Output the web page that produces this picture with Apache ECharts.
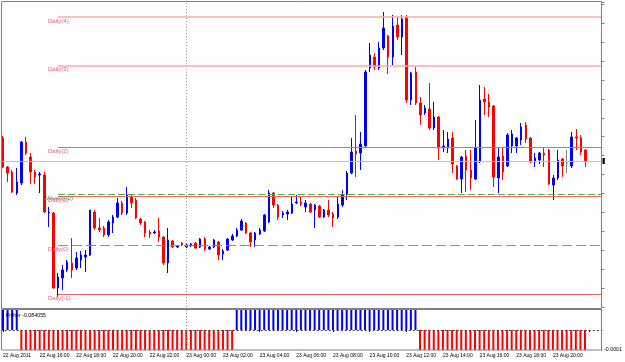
<!DOCTYPE html>
<html><head><meta charset="utf-8">
<script src="https://cdn.jsdelivr.net/npm/echarts@6/dist/echarts.min.js"></script>
<style>html,body{margin:0;padding:0;background:#fff}#c{width:625px;height:362px}</style>
</head><body><div id="c"></div>
<script>
// ---- data (15-minute bars, 22 Aug 2011 14:00 onwards) ----
const openP = [
1.44295,1.44150,1.44125,1.44020,1.44070,1.44275,1.44200,1.44125,1.44110,1.44110,
1.43920,1.43920,1.43545,1.43595,1.43635,1.43670,1.43645,1.43685,1.43700,1.43710,
1.43925,1.43845,1.43845,1.43810,1.43870,1.43900,1.43970,1.43920,1.44000,1.43985,
1.43890,1.43875,1.43825,1.43820,1.43830,1.43800,1.43670,1.43780,1.43750,1.43770,
1.43750,1.43755,1.43770,1.43750,1.43790,1.43740,1.43750,1.43775,1.43715,1.43735,
1.43785,1.43805,1.43835,1.43870,1.43820,1.43785,1.43815,1.43830,1.43875,1.44020,
1.43960,1.43910,1.43915,1.43920,1.43970,1.43975,1.43950,1.43965,1.43935,1.43955,
1.43900,1.43935,1.43915,1.43900,1.43960,1.44015,1.44120,1.44230,1.44220,1.44255,
1.44645,1.44700,1.44645,1.44745,1.44805,1.44700,1.44860,1.44800,1.44895,1.44485,
1.44625,1.44470,1.44420,1.44440,1.44345,1.44400,1.44245,1.44245,1.44295,1.44155,
1.44090,1.44205,1.44135,1.44090,1.44175,1.44490,1.44475,1.44455,1.44095,1.44205,
1.44155,1.44255,1.44255,1.44285,1.44360,1.44295,1.44175,1.44185,1.44220,1.44235,
1.44060,1.44095,1.44190,1.44170,1.44155,1.44300,1.44295,1.44235];
const closeP = [
1.44150,1.44120,1.44025,1.44075,1.44275,1.44220,1.44125,1.44100,1.44115,1.43925,
1.43925,1.43545,1.43600,1.43635,1.43675,1.43635,1.43695,1.43710,1.43710,1.43935,
1.43845,1.43835,1.43810,1.43875,1.43900,1.43970,1.43920,1.44010,1.43970,1.43895,
1.43870,1.43820,1.43815,1.43825,1.43800,1.43670,1.43785,1.43750,1.43755,1.43760,
1.43760,1.43765,1.43745,1.43790,1.43740,1.43750,1.43785,1.43710,1.43730,1.43790,
1.43805,1.43835,1.43880,1.43820,1.43775,1.43820,1.43835,1.43910,1.44020,1.43960,
1.43900,1.43920,1.43925,1.43965,1.43975,1.43965,1.43970,1.43925,1.43960,1.43900,
1.43935,1.43910,1.43895,1.43965,1.44010,1.44120,1.44225,1.44215,1.44265,1.44625,
1.44710,1.44650,1.44745,1.44845,1.44700,1.44855,1.44800,1.44890,1.44485,1.44620,
1.44470,1.44410,1.44445,1.44345,1.44400,1.44245,1.44255,1.44290,1.44165,1.44090,
1.44200,1.44135,1.44095,1.44245,1.44485,1.44475,1.44450,1.44100,1.44200,1.44125,
1.44310,1.44315,1.44295,1.44350,1.44290,1.44175,1.44195,1.44220,1.44210,1.44065,
1.44095,1.44185,1.44155,1.44170,1.44300,1.44295,1.44225,1.44180];
const lowP = [
1.44145,1.44075,1.44020,1.44010,1.44060,1.44210,1.44065,1.44065,1.44020,1.43920,
1.43850,1.43540,1.43500,1.43535,1.43625,1.43595,1.43635,1.43645,1.43625,1.43705,
1.43835,1.43825,1.43800,1.43800,1.43820,1.43895,1.43910,1.43910,1.43945,1.43890,
1.43860,1.43800,1.43795,1.43815,1.43775,1.43660,1.43620,1.43745,1.43745,1.43755,
1.43745,1.43750,1.43740,1.43745,1.43730,1.43735,1.43745,1.43685,1.43685,1.43730,
1.43780,1.43800,1.43830,1.43815,1.43750,1.43750,1.43810,1.43825,1.43870,1.43945,
1.43885,1.43895,1.43885,1.43915,1.43965,1.43955,1.43925,1.43920,1.43845,1.43895,
1.43895,1.43900,1.43850,1.43890,1.43950,1.43985,1.44115,1.44100,1.44135,1.44250,
1.44625,1.44635,1.44635,1.44735,1.44615,1.44660,1.44785,1.44710,1.44470,1.44460,
1.44460,1.44360,1.44410,1.44335,1.44335,1.44185,1.44225,1.44220,1.44120,1.44085,
1.44020,1.44025,1.44035,1.44085,1.44170,1.44410,1.44400,1.44050,1.44020,1.44085,
1.44150,1.44220,1.44220,1.44260,1.44270,1.44170,1.44150,1.44165,1.44150,1.44060,
1.43985,1.44085,1.44100,1.44120,1.44145,1.44235,1.44210,1.44150];
const highP = [
1.44305,1.44155,1.44135,1.44145,1.44280,1.44300,1.44220,1.44135,1.44125,1.44125,
1.43950,1.43925,1.43620,1.43660,1.43685,1.43795,1.43725,1.43730,1.43735,1.43935,
1.43935,1.43895,1.43855,1.43885,1.43910,1.43995,1.43980,1.44050,1.44010,1.43995,
1.43895,1.43880,1.43835,1.43835,1.43895,1.43805,1.43845,1.43785,1.43760,1.43775,
1.43770,1.43770,1.43775,1.43795,1.43800,1.43755,1.43790,1.43780,1.43740,1.43795,
1.43815,1.43845,1.43890,1.43875,1.43825,1.43825,1.43845,1.43915,1.44035,1.44025,
1.43965,1.43930,1.43935,1.44005,1.44010,1.44000,1.43985,1.43970,1.43965,1.43960,
1.43940,1.43985,1.43925,1.44000,1.44035,1.44130,1.44295,1.44410,1.44325,1.44635,
1.44770,1.44720,1.44775,1.44925,1.44810,1.44910,1.44900,1.44910,1.44910,1.44625,
1.44650,1.44500,1.44460,1.44570,1.44475,1.44405,1.44335,1.44325,1.44325,1.44160,
1.44205,1.44235,1.44235,1.44385,1.44560,1.44550,1.44515,1.44460,1.44245,1.44250,
1.44320,1.44335,1.44300,1.44370,1.44375,1.44300,1.44220,1.44225,1.44245,1.44240,
1.44110,1.44235,1.44195,1.44235,1.44325,1.44340,1.44310,1.44240];
const fisher = [
 0.0001, 0.0001, 0.0001, 0.0001,-0.0001,-0.0001,-0.0001,-0.0001,-0.0001,-0.0001,
-0.0001,-0.0001,-0.0001,-0.0001,-0.0001,-0.0001,-0.0001,-0.0001,-0.0001,-0.0001,
-0.0001,-0.0001,-0.0001,-0.0001,-0.0001,-0.0001,-0.0001,-0.0001,-0.0001,-0.0001,
-0.0001,-0.0001,-0.0001,-0.0001,-0.0001,-0.0001,-0.0001,-0.0001,-0.0001,-0.0001,
-0.0001,-0.0001,-0.0001,-0.0001,-0.0001,-0.0001,-0.0001,-0.0001,-0.0001,-0.0001,
-0.0001, 0.0001, 0.0001, 0.0001, 0.0001, 0.0001, 0.0001, 0.0001, 0.0001, 0.0001,
 0.0001, 0.0001, 0.0001, 0.0001, 0.0001, 0.0001, 0.0001, 0.0001, 0.0001, 0.0001,
 0.0001, 0.0001, 0.0001, 0.0001, 0.0001, 0.0001, 0.0001, 0.0001, 0.0001, 0.0001,
 0.0001, 0.0001, 0.0001, 0.0001, 0.0001, 0.0001, 0.0001, 0.0001, 0.0001, 0.0001,
 0.0001,-0.0001,-0.0001,-0.0001,-0.0001,-0.0001,-0.0001,-0.0001,-0.0001,-0.0001,
-0.0001,-0.0001,-0.0001,-0.0001,-0.0001,-0.0001,-0.0001,-0.0001,-0.0001,-0.0001,
-0.0001,-0.0001,-0.0001,-0.0001,-0.0001,-0.0001,-0.0001,-0.0001,-0.0001,-0.0001,
-0.0001,-0.0001,-0.0001,-0.0001,-0.0001,-0.0001,-0.0001,-0.0001];
const levelNames  = ['Daily(4)','Daily(3)','Daily(2)','Daily(1)','Daily(0)','Daily(-1)'];
const levelValues = [1.44900, 1.446575, 1.44249, 1.44004, 1.43759, 1.43514];
const weeklyName = 'Weekly(0)';
const weeklyValue = 1.44015;
const bidValue = 1.44180;
const levelStartIndex = 12;
const daySeparatorIndex = 40;
const xTickLabels = ['22 Aug 2011','22 Aug 16:00','22 Aug 18:00','22 Aug 20:00','22 Aug 22:00',
  '23 Aug 00:00','23 Aug 02:00','23 Aug 04:00','23 Aug 06:00','23 Aug 08:00','23 Aug 10:00',
  '23 Aug 12:00','23 Aug 14:00','23 Aug 16:00','23 Aug 18:00','23 Aug 20:00'];
const fisherTitle = 'Fisher -0.084055';
const fisherAxisLabel = '-0.0001';

// ---- layout / styles ----
const W = 625, H = 362;
const GL = 0.7, GR = 23.5;
const plotRight = W - GR;
const FONT = '"Liberation Sans", Arial, sans-serif';
const yStep = 0.000945, yMin = 1518 * 0.000945, yMax = 1.44975;
const levelStyles = [
  {color:'#ffa8a8', width:1.5, type:'solid'},
  {color:'#ffa8a8', width:1.5, type:'solid'},
  {color:'#f06464', width:1, type:'solid'},
  {color:'#f06464', width:1, type:'solid'},
  {color:'#f06464', width:1, type:[10,4]},
  {color:'#f06464', width:1, type:'solid'}
];
const levelTextColor = '#f0508a';

// category slots (15 min), 3 empty slots on the right (chart shift)
const categories = [];
for (let k = 0; k < 131; k++) {
  const m = 14 * 60 + 15 * k;
  const d = 22 + Math.floor(m / 1440);
  const mm = m % 1440;
  categories.push(d + ' Aug ' + String(Math.floor(mm / 60)).padStart(2, '0') + ':' + String(mm % 60).padStart(2, '0'));
}
const candles = openP.map((o, i) => [o, closeP[i], lowP[i], highP[i]]);

const lastIdx = categories.length - 1;
const mlData = [];
mlData.push({ xAxis: daySeparatorIndex, lineStyle: {color:'#8a8a8a', width:1, type:[1,2]}, label:{show:false} });
mlData.push({ yAxis: bidValue, lineStyle: {color:'#c4c4c4', width:1, type:'solid'},
  label: {show:true, position:'end', formatter:' ', backgroundColor:'#000', padding:[2.5,1], fontSize:1, distance:1} });
mlData.push([
  { coord:[levelStartIndex, weeklyValue], lineStyle:{color:'#5aa85a', width:1, type:[7,3]},
    label:{show:true, formatter:weeklyName, position:'insideStartBottom', distance:[-12,1], color:'#3c9a3c', fontSize:6, fontFamily:FONT} },
  { coord:[lastIdx, weeklyValue], x: plotRight }
]);
levelNames.forEach((name, k) => {
  mlData.push([
    { coord:[levelStartIndex, levelValues[k]], lineStyle: levelStyles[k],
      label:{show:true, formatter:name, position:'insideStartBottom', distance:[-10,1], color:levelTextColor, fontSize:6, fontFamily:FONT} },
    { coord:[lastIdx, levelValues[k]], x: plotRight }
  ]);
});

const chart = echarts.init(document.getElementById('c'), null, {renderer:'canvas'});
chart.setOption({
  animation: false,
  backgroundColor: '#ffffff',
  grid: [
    { left: GL, right: GR, top: 2, bottom: H - 306.8 },
    { left: GL, right: GR, top: 310, bottom: H - 350 }
  ],
  xAxis: [
    { type:'category', gridIndex:0, data:categories, boundaryGap:true,
      axisLine:{show:false}, axisTick:{show:false}, axisLabel:{show:false}, splitLine:{show:false} },
    { type:'category', gridIndex:1, data:categories, boundaryGap:true,
      axisLine:{show:false},
      axisTick:{show:true, interval:7, alignWithLabel:true, length:2, lineStyle:{color:'#000'}},
      axisLabel:{show:true, interval:7, align:'left', margin:3, fontSize:5, color:'#000', fontFamily:FONT,
        formatter:(v, idx) => xTickLabels[idx / 8] || ''},
      splitLine:{show:false} }
  ],
  yAxis: [
    { type:'value', gridIndex:0, position:'right', min:yMin, max:yMax, interval:yStep,
      axisLine:{show:true, lineStyle:{color:'#808080'}},
      axisTick:{show:true, length:3, lineStyle:{color:'#808080'}},
      axisLabel:{show:false}, splitLine:{show:false} },
    { type:'value', gridIndex:1, position:'right', min:-0.0001, max:0.0001, interval:0.0001,
      axisLine:{show:true, lineStyle:{color:'#808080'}},
      axisTick:{show:true, length:2, lineStyle:{color:'#c8b878'}},
      axisLabel:{show:true, margin:3, fontSize:5.3, color:'#000', fontFamily:FONT,
        formatter: v => (v < -0.00005 ? fisherAxisLabel : '')},
      splitLine:{show:false} }
  ],
  graphic: [
    { type:'rect', silent:true, z:100, shape:{x:1.5, y:1.5, width:plotRight - 1.5, height:307},
      style:{fill:null, stroke:'#808080', lineWidth:1} },
    { type:'rect', silent:true, z:100, shape:{x:1.5, y:309.5, width:plotRight - 1.5, height:40.5},
      style:{fill:null, stroke:'#808080', lineWidth:1} },
    { type:'text', silent:true, z:200, left: 6, top: 313.5,
      style:{text: fisherTitle, fill:'#000', font: '5.3px ' + FONT} }
  ],
  series: [
    { type:'candlestick', xAxisIndex:0, yAxisIndex:0, data:candles, barWidth:2,
      itemStyle:{ color:'#0000ff', color0:'#ff0000', borderColor:'#0000ff', borderColor0:'#ff0000',
        borderColorDoji:'#808080', borderWidth:1 },
      markLine:{ silent:true, symbol:['none','none'], animation:false, precision:5, data: mlData } },
    { type:'bar', xAxisIndex:1, yAxisIndex:1, data:fisher, barWidth:2,
      itemStyle:{ color: p => (p.value >= 0 ? '#0000ff' : '#ff0000') },
      markLine:{ silent:true, symbol:['none','none'], animation:false,
        data:[ { yAxis:0, lineStyle:{color:'#404040', width:1, type:[2,2]}, label:{show:false} },
               { xAxis:daySeparatorIndex, lineStyle:{color:'#8a8a8a', width:1, type:[1,2]}, label:{show:false} } ] } }
  ]
});
</script></body></html>
